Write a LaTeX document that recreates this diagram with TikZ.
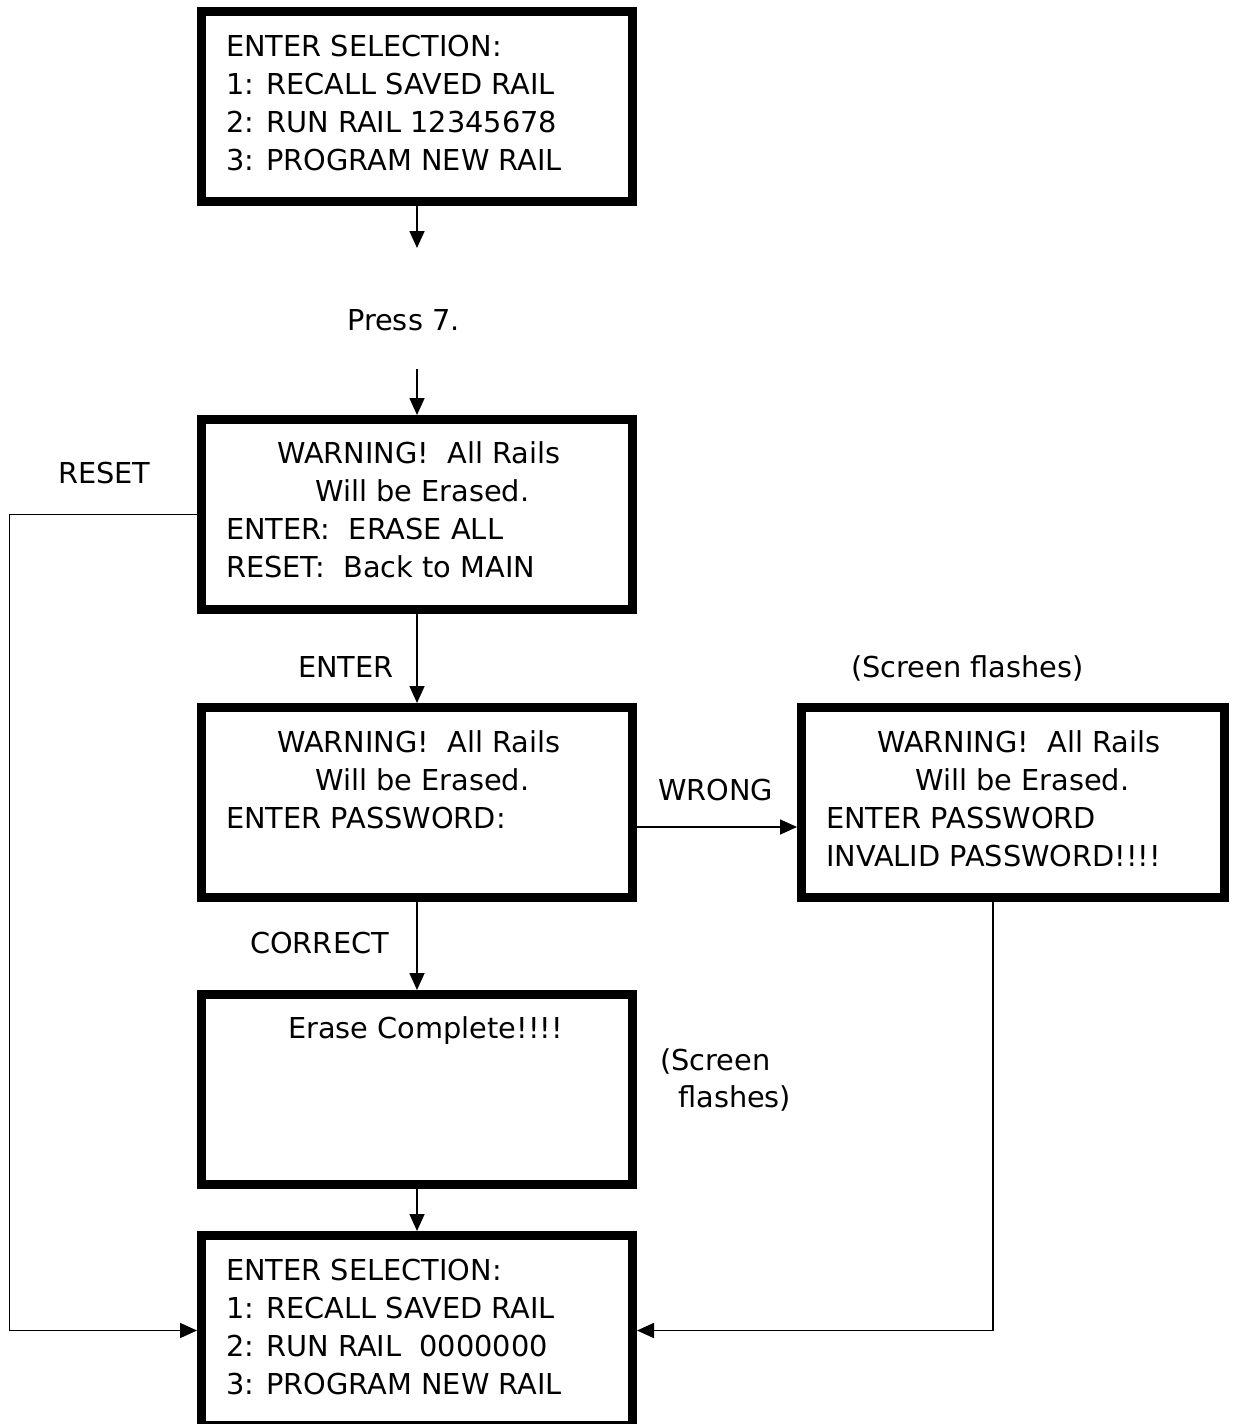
\documentclass[tikz,border=0pt]{standalone}
\usepackage{fontspec}
\setmainfont{DejaVu Sans}
\usetikzlibrary{arrows.meta}
\begin{document}
\begin{tikzpicture}[x=1pt,y=-1pt,
  scrbox/.style={draw=black,line width=9pt,minimum width=431pt,minimum height=190pt,inner sep=0pt,fill=white},
  txt/.style={anchor=base west,inner sep=0pt,font=\fontsize{28.8}{38}\selectfont},
  arr/.style={line width=1.7pt,-{Triangle[width=15pt,length=17pt]}},
  conn/.style={line width=1.7pt}]
\useasboundingbox (0,0) rectangle (1239,1424);
\fill[white] (0,0) rectangle (1239,1424);
% boxes
\node[scrbox] (b1) at (417,106.5) {};
\node[scrbox] (b2) at (417,514.5) {};
\node[scrbox] (b3) at (417,802.5) {};
\node[scrbox] (b4) at (417,1089.5) {};
\node[scrbox] (b5) at (417,1330.5) {};
\node[scrbox,minimum width=423pt] (wb) at (1013,802.5) {};
% box 1 text
\node[txt] (t1a) at (226,56) {ENTER SELECTION:};
\node[txt] (t1b) at (226,94) {1: RECALL SAVED RAIL};
\node[txt] (t1c) at (226,132) {2: RUN RAIL 12345678};
\node[txt] (t1d) at (226,170) {3: PROGRAM NEW RAIL};
% box 2 text
\node[txt] (t2a) at (277,463) {WARNING!\ \ All Rails};
\node[txt] (t2b) at (315,501) {Will be Erased.};
\node[txt] (t2c) at (226,539) {ENTER:\ \ ERASE ALL};
\node[txt] (t2d) at (226,577) {RESET:\ \ Back to MAIN};
% box 3 text
\node[txt] (t3a) at (277,752) {WARNING!\ \ All Rails};
\node[txt] (t3b) at (315,790) {Will be Erased.};
\node[txt] (t3c) at (226,828) {ENTER PASSWORD:};
% wrong box text
\node[txt] (twa) at (877,752) {WARNING!\ \ All Rails};
\node[txt] (twb) at (915,790) {Will be Erased.};
\node[txt] (twc) at (826,828) {ENTER PASSWORD};
\node[txt] (twd) at (826,866) {INVALID PASSWORD!!!!};
% box 4 text
\node[txt] (t4a) at (288,1038) {Erase Complete!!!!};
% box 5 text
\node[txt] (t5a) at (226,1280) {ENTER SELECTION:};
\node[txt] (t5b) at (226,1318) {1: RECALL SAVED RAIL};
\node[txt] (t5c) at (226,1356) {2: RUN RAIL\ \ 0000000};
\node[txt] (t5d) at (226,1394) {3: PROGRAM NEW RAIL};
% labels
\node[txt] (lpress) at (347,330) {Press 7.};
\node[txt] (lreset) at (58,483) {RESET};
\node[txt] (lenter) at (298,677) {ENTER};
\node[txt] (lflash1) at (851,677) {(Screen flashes)};
\node[txt] (lwrong) at (658,800) {WRONG};
\node[txt] (lcorrect) at (250,953) {CORRECT};
\node[txt] (lflash2a) at (660,1070) {(Screen};
\node[txt] (lflash2b) at (678,1107) {flashes)};
% connectors
\coordinate (a1) at (417,248);
\coordinate (a2) at (417,369);
\coordinate (lc) at (9.5,1330.5);
\coordinate (rc) at (993,1330.5);
\coordinate (wy) at (0,827);
\draw[arr] (b1.south) -- (a1);
\draw[arr] (a2) -- (b2.north);
\draw[arr] (b2.south) -- (b3.north);
\draw[arr] (b3.south) -- (b4.north);
\draw[arr] (b4.south) -- (b5.north);
\draw[arr] (b3.east |- wy) -- (wb.west |- wy);
\draw[arr] (b2.west) -| (lc) -- (b5.west);
\draw[arr] (wb.south -| rc) -- (rc) -- (b5.east);
\end{tikzpicture}
\end{document}
